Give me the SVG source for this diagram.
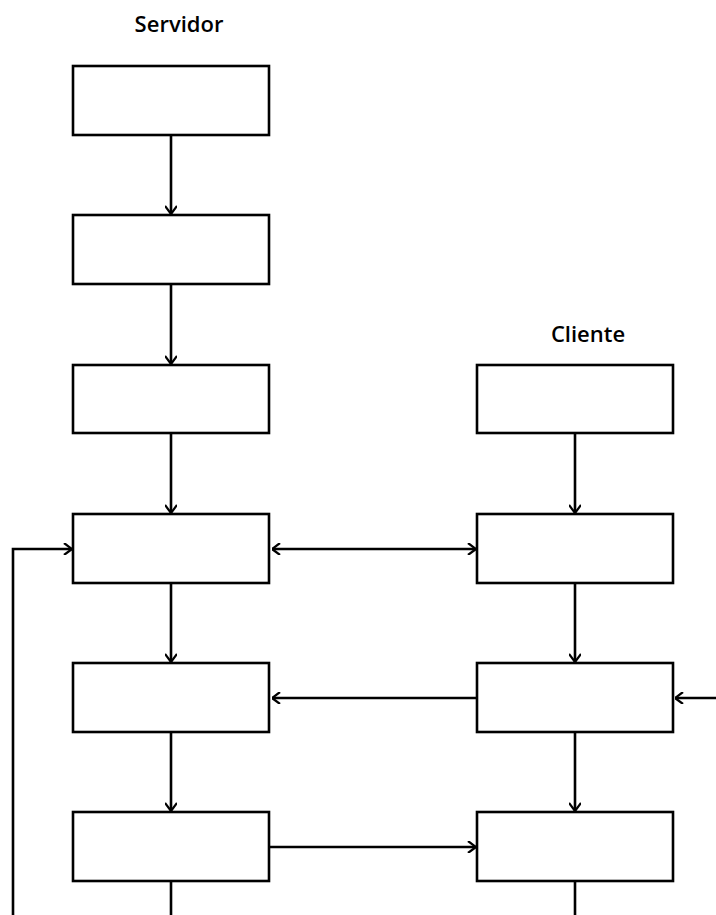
<svg xmlns="http://www.w3.org/2000/svg" width="716" height="915" viewBox="0 0 716 915">
<style>
.box{fill:#fff;stroke:#000;stroke-width:2.6}
.ln{fill:none;stroke:#000;stroke-width:2.6}
.t{font-family:"Open Sans","DejaVu Sans",sans-serif;font-weight:600;font-size:22px;fill:#000;text-anchor:middle}
</style>
<defs>
<marker id="ah" viewBox="0 0 10 12" refX="10" refY="6" markerWidth="10" markerHeight="12" markerUnits="userSpaceOnUse" orient="auto-start-reverse">
<path d="M2,0 L10,6 L2,12" fill="none" stroke="#000" stroke-width="2.2"/>
</marker>
</defs>
<text class="t" x="179" y="32">Servidor</text>
<text class="t" x="588" y="342">Cliente</text>
<g id="connectors">
<line class="ln" x1="171" y1="135" x2="171" y2="214" marker-end="url(#ah)"/>
<line class="ln" x1="171" y1="284" x2="171" y2="364" marker-end="url(#ah)"/>
<line class="ln" x1="171" y1="433" x2="171" y2="513" marker-end="url(#ah)"/>
<line class="ln" x1="171" y1="583" x2="171" y2="662" marker-end="url(#ah)"/>
<line class="ln" x1="171" y1="732" x2="171" y2="811" marker-end="url(#ah)"/>
<line class="ln" x1="171" y1="881" x2="171" y2="915"/>
<line class="ln" x1="575" y1="433" x2="575" y2="513" marker-end="url(#ah)"/>
<line class="ln" x1="575" y1="583" x2="575" y2="662" marker-end="url(#ah)"/>
<line class="ln" x1="575" y1="732" x2="575" y2="811" marker-end="url(#ah)"/>
<line class="ln" x1="575" y1="881" x2="575" y2="915"/>
<line class="ln" x1="272" y1="549" x2="476" y2="549" marker-start="url(#ah)" marker-end="url(#ah)"/>
<line class="ln" x1="477" y1="698" x2="272" y2="698" marker-end="url(#ah)"/>
<line class="ln" x1="716" y1="698" x2="675" y2="698" marker-end="url(#ah)"/>
<line class="ln" x1="270" y1="847" x2="476" y2="847" marker-end="url(#ah)"/>
<polyline class="ln" points="13,915 13,549 72,549" marker-end="url(#ah)"/>
</g>
<g id="s1"><rect class="box" x="73" y="66" width="196" height="69"/></g>
<g id="s2"><rect class="box" x="73" y="215" width="196" height="69"/></g>
<g id="s3"><rect class="box" x="73" y="365" width="196" height="68"/></g>
<g id="s4"><rect class="box" x="73" y="514" width="196" height="69"/></g>
<g id="s5"><rect class="box" x="73" y="663" width="196" height="69"/></g>
<g id="s6"><rect class="box" x="73" y="812" width="196" height="69"/></g>
<g id="c1"><rect class="box" x="477" y="365" width="196" height="68"/></g>
<g id="c2"><rect class="box" x="477" y="514" width="196" height="69"/></g>
<g id="c3"><rect class="box" x="477" y="663" width="196" height="69"/></g>
<g id="c4"><rect class="box" x="477" y="812" width="196" height="69"/></g>
</svg>
